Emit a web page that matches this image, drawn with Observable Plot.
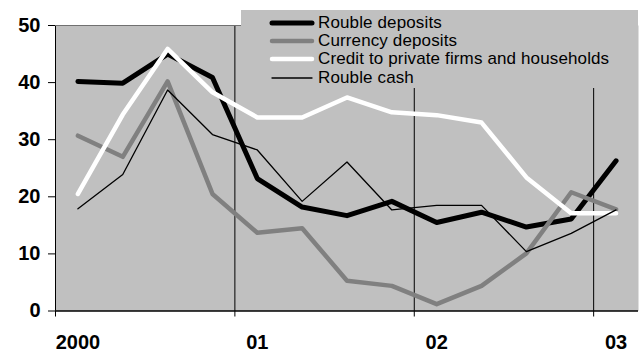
<!DOCTYPE html>
<html><head><meta charset="utf-8">
<script src="https://cdn.jsdelivr.net/npm/d3@7"></script>
<script src="https://cdn.jsdelivr.net/npm/@observablehq/plot@0.6"></script>
<style>
body{margin:0;background:#fff;}
#wrap{position:relative;width:640px;height:353px;overflow:hidden;font-family:"Liberation Sans",Arial,sans-serif;}
#legend{position:absolute;left:241px;top:10px;width:397px;height:78px;background:#C0C0C0;}
.row{position:absolute;left:28px;height:18px;display:flex;align-items:center;font-size:17px;letter-spacing:0.13px;line-height:18px;color:#000;white-space:nowrap;}
.row svg{margin-right:3px;display:block;}
</style></head><body><div id="wrap"></div>
<script>
// Quarterly data, 2000 Q1 .. 2003 Q1 (% year-on-year)
const quarters = ["2000Q1","2000Q2","2000Q3","2000Q4","2001Q1","2001Q2","2001Q3","2001Q4","2002Q1","2002Q2","2002Q3","2002Q4","2003Q1"];
const roubleDeposits   = [40.2, 39.9, 45.0, 40.9, 23.2, 18.2, 16.7, 19.2, 15.5, 17.3, 14.7, 16.1, 26.3];
const currencyDeposits = [30.7, 27.0, 40.2, 20.5, 13.7, 14.5, 5.3, 4.4, 1.2, 4.4, 10.1, 20.8, 17.8];
const creditPrivate    = [20.5, 34.4, 45.9, 38.3, 33.9, 33.9, 37.4, 34.8, 34.3, 33.0, 23.4, 17.1, 17.1];
const roubleCash       = [17.9, 23.9, 38.7, 30.9, 28.2, 19.2, 26.1, 17.7, 18.5, 18.5, 10.4, 13.6, 17.7];
const seriesNames = ["Rouble deposits","Currency deposits","Credit to private firms and households","Rouble cash"];
const yearLabels = ["2000","01","02","03"];
const yTicks = [0,10,20,30,40,50];

const seriesValues = [roubleDeposits, currencyDeposits, creditPrivate, roubleCash];
const seriesStyle = [
  {stroke:"#000000", width:5},
  {stroke:"#808080", width:4.5},
  {stroke:"#FFFFFF", width:4.5},
  {stroke:"#000000", width:1.3}
];

const rows = [];
seriesNames.forEach((name, s) => seriesValues[s].forEach((v, i) => rows.push({series:name, q:i + 0.5, v})));
const yearStarts = yearLabels.map((_, k) => k * 4);
const labelPos = yearLabels.map((_, k) => k * 4 + 0.5);
const labelMap = new Map(labelPos.map((p, k) => [p, yearLabels[k]]));

const lineMarks = seriesNames.map((name, s) => Plot.line(rows.filter(r => r.series === name), {
  x:"q", y:"v", stroke:seriesStyle[s].stroke, strokeWidth:seriesStyle[s].width,
  strokeLinejoin:"round", strokeLinecap:"round"
}));

const chart = Plot.plot({
  width:640, height:353,
  marginLeft:55, marginRight:2, marginTop:25, marginBottom:42.5,
  x:{domain:[0, 13]},
  y:{domain:[0, 50]},
  style:{fontFamily:"'Liberation Sans', Arial, sans-serif", fontSize:"20px", fontWeight:"bold", background:"transparent", color:"#000"},
  marks:[
    Plot.frame({fill:"#C0C0C0", stroke:null}),
    Plot.ruleX(yearStarts, {stroke:"#000", strokeWidth:1}),
    Plot.ruleY([50], {stroke:"#707070", strokeWidth:1}),
    Plot.ruleY([0], {stroke:"#000", strokeWidth:1.5}),
    Plot.axisY({ticks:yTicks, tickSize:7, tickPadding:8, label:null, stroke:"#000"}),
    Plot.axisX({ticks:yearStarts, tickSize:6, tickFormat:() => "", label:null, stroke:"#000"}),
    Plot.axisX({ticks:labelPos, tickSize:0, tickPadding:24, tickFormat:d => labelMap.get(d), label:null}),
    ...lineMarks
  ]
});
const wrap = document.getElementById("wrap");
wrap.appendChild(chart);

// Legend overlay
const legend = document.createElement("div");
legend.id = "legend";
const rowCenters = [12.7, 31.0, 49.3, 67.6];
seriesNames.forEach((name, s) => {
  const row = document.createElement("div");
  row.className = "row";
  row.style.top = (rowCenters[s] - 9) + "px";
  const sw = d3.create("svg").attr("width", 46).attr("height", 18);
  sw.append("line").attr("x1", 3).attr("x2", 43).attr("y1", 9).attr("y2", 9)
    .attr("stroke", seriesStyle[s].stroke).attr("stroke-width", seriesStyle[s].width)
    .attr("stroke-linecap", "round");
  row.appendChild(sw.node());
  const t = document.createElement("span");
  t.textContent = name;
  row.appendChild(t);
  legend.appendChild(row);
});
wrap.appendChild(legend);
</script>
</body></html>
